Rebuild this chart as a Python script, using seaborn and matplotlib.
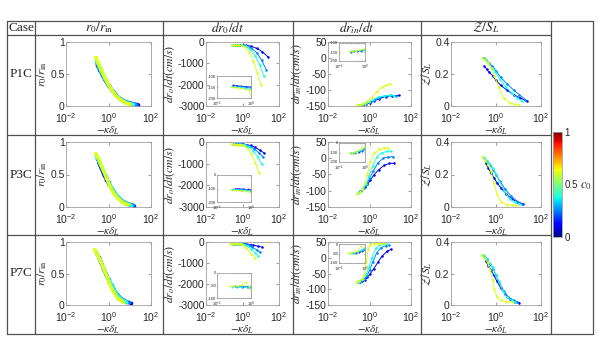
import pandas as pd
import seaborn as sns
import matplotlib
matplotlib.use("Agg")
import matplotlib.pyplot as plt
from matplotlib.lines import Line2D
from matplotlib.cm import ScalarMappable
from matplotlib.colors import Normalize
from matplotlib.ticker import NullFormatter

# curve colours (c0 values) shared by all panels
C0 = [0.1, 0.25, 0.38, 0.62]
CASES = ["P1C", "P3C", "P7C"]
HEADERS = ["Case", r"$r_0/r_{\rm in}$", r"$dr_0/dt$", r"$dr_{in}/dt$", r"$\mathcal{Z}/S_L$"]
YLABELS = [r"$r_0/r_{\rm in}$", r"$dr_o/dt(cm/s)$", r"$dr_{in}/dt(cm/s)$", r"$\mathcal{Z}/S_L$"]

# -kappa*delta_L samples, one list per c0 curve
K_P1C = [[0.30, 0.38, 0.5, 0.7, 1.0, 1.6, 3, 6, 12, 25],
         [0.28, 0.36, 0.48, 0.68, 1.0, 1.6, 3, 6, 11, 20],
         [0.27, 0.35, 0.46, 0.65, 0.95, 1.5, 2.7, 5, 9, 15],
         [0.25, 0.33, 0.44, 0.6, 0.85, 1.3, 2.2, 4, 6.5, 10]]
K_P3C = [[0.35, 0.45, 0.6, 0.8, 1.1, 1.6, 2.8, 5, 9, 16],
         [0.3, 0.4, 0.55, 0.75, 1.0, 1.5, 2.5, 4.5, 8, 14],
         [0.27, 0.36, 0.5, 0.7, 0.95, 1.4, 2.3, 4, 7, 11],
         [0.25, 0.33, 0.45, 0.6, 0.8, 1.1, 1.7, 3, 5, 8]]
K_P7C = [[0.35, 0.45, 0.6, 0.8, 1.1, 1.6, 2.5, 4, 7, 11],
         [0.3, 0.4, 0.55, 0.75, 1.0, 1.4, 2.2, 3.5, 6, 9],
         [0.27, 0.36, 0.5, 0.7, 0.95, 1.3, 2, 3, 5, 7],
         [0.22, 0.3, 0.42, 0.55, 0.7, 0.85, 1.1, 1.6, 2.8, 5]]

# r0/rin
R0_P1C = [[0.64, 0.56, 0.49, 0.40, 0.32, 0.23, 0.13, 0.07, 0.04, 0.02],
          [0.68, 0.59, 0.51, 0.42, 0.33, 0.23, 0.13, 0.07, 0.04, 0.02],
          [0.71, 0.62, 0.53, 0.43, 0.34, 0.24, 0.14, 0.08, 0.04, 0.03],
          [0.76, 0.67, 0.58, 0.48, 0.38, 0.27, 0.16, 0.09, 0.05, 0.03]]
R0_P3C = [[0.68, 0.60, 0.50, 0.42, 0.34, 0.25, 0.15, 0.08, 0.04, 0.02],
          [0.74, 0.66, 0.56, 0.47, 0.38, 0.28, 0.17, 0.09, 0.05, 0.03],
          [0.78, 0.70, 0.60, 0.50, 0.40, 0.30, 0.18, 0.10, 0.05, 0.03],
          [0.82, 0.75, 0.65, 0.55, 0.45, 0.34, 0.22, 0.12, 0.06, 0.04]]
R0_P7C = [[0.76, 0.67, 0.56, 0.47, 0.37, 0.27, 0.17, 0.10, 0.05, 0.03],
          [0.80, 0.71, 0.60, 0.50, 0.41, 0.31, 0.19, 0.11, 0.06, 0.04],
          [0.84, 0.75, 0.63, 0.52, 0.43, 0.34, 0.22, 0.13, 0.07, 0.05],
          [0.88, 0.80, 0.70, 0.60, 0.52, 0.45, 0.35, 0.22, 0.10, 0.05]]

# dr0/dt (cm/s)
DR0_P1C = [[-142, -144, -146, -148, -150, -160, -200, -300, -450, -700],
           [-145, -147, -149, -151, -154, -180, -280, -500, -850, -1300],
           [-148, -150, -152, -155, -158, -200, -350, -650, -1100, -1600],
           [-150, -152, -155, -158, -162, -230, -450, -900, -1450, -2000]]
DR0_P3C = [[-100, -102, -104, -106, -110, -120, -160, -250, -380, -520],
           [-105, -107, -108, -110, -115, -130, -190, -320, -500, -700],
           [-108, -110, -112, -115, -120, -140, -220, -420, -700, -1000],
           [-112, -114, -116, -118, -120, -150, -260, -550, -950, -1430]]
DR0_P7C = [[-85, -86, -87, -88, -90, -100, -120, -150, -200, -240],
           [-86, -87, -88, -89, -92, -110, -160, -250, -380, -480],
           [-88, -88, -89, -90, -95, -120, -200, -330, -500, -670],
           [-85, -84, -82, -75, -60, -80, -150, -300, -550, -760]]

# drin/dt (cm/s)
DRIN_P1C = [[-148, -147, -146, -144, -141, -135, -127, -121, -118, -117],
            [-148, -147, -145, -142, -139, -132, -124, -119, -117, -118],
            [-147, -146, -144, -141, -137, -130, -122, -118, -117, -118],
            [-147, -146, -144, -140, -134, -122, -105, -92, -85, -82]]
DRIN_P3C = [[-100, -96, -90, -80, -67, -52, -35, -22, -16, -15],
            [-104, -100, -92, -80, -62, -40, -15, 0, 4, 5],
            [-107, -103, -93, -78, -55, -25, 5, 17, 21, 22],
            [-110, -105, -95, -75, -48, -12, 15, 27, 31, 32]]
DRIN_P7C = [[-78, -75, -70, -62, -50, -35, -15, 5, 20, 27],
            [-77, -74, -68, -58, -40, -15, 15, 32, 38, 40],
            [-77, -73, -66, -52, -30, 0, 30, 40, 43, 44],
            [-77, -74, -68, -55, -15, 25, 42, 45, 45, 45]]

# Z/S_L
Z_P1C = [[0.25, 0.23, 0.21, 0.19, 0.16, 0.13, 0.10, 0.07, 0.05, 0.03],
         [0.30, 0.29, 0.27, 0.25, 0.22, 0.18, 0.14, 0.10, 0.07, 0.04],
         [0.30, 0.29, 0.27, 0.24, 0.21, 0.17, 0.12, 0.08, 0.05, 0.03],
         [0.30, 0.29, 0.27, 0.24, 0.19, 0.12, 0.05, 0.02, 0.01, 0.008]]
Z_P3C = [[0.27, 0.24, 0.21, 0.18, 0.15, 0.12, 0.08, 0.05, 0.03, 0.02],
         [0.30, 0.28, 0.26, 0.23, 0.20, 0.16, 0.11, 0.07, 0.04, 0.02],
         [0.31, 0.29, 0.27, 0.24, 0.21, 0.16, 0.10, 0.05, 0.03, 0.02],
         [0.31, 0.29, 0.26, 0.22, 0.15, 0.08, 0.03, 0.015, 0.01, 0.01]]
Z_P7C = [[0.28, 0.25, 0.22, 0.19, 0.15, 0.11, 0.07, 0.04, 0.02, 0.015],
         [0.31, 0.29, 0.26, 0.23, 0.19, 0.14, 0.09, 0.05, 0.03, 0.02],
         [0.32, 0.30, 0.27, 0.24, 0.20, 0.15, 0.09, 0.05, 0.03, 0.02],
         [0.32, 0.30, 0.27, 0.22, 0.16, 0.10, 0.05, 0.03, 0.02, 0.02]]

K_ALL = [K_P1C, K_P3C, K_P7C]
VALUES = [[R0_P1C, DR0_P1C, DRIN_P1C, Z_P1C],
          [R0_P3C, DR0_P3C, DRIN_P3C, Z_P3C],
          [R0_P7C, DR0_P7C, DRIN_P7C, Z_P7C]]

YLIMS = [(0, 1), (-3000, 0), (-150, 50), (0, 0.4)]
YTICKS = [[0, 0.5, 1], [-3000, -2000, -1000, 0], [-150, -100, -50, 0, 50], [0, 0.2, 0.4]]
YTICKLABELS = [["0", "0.5", "1"], ["-3000", "-2000", "-1000", "0"],
               ["-150", "-100", "-50", "0", "50"], ["0", "0.2", "0.4"]]
INSET_YLIMS = [(-200, -100), (-200, 0), (-160, 0)]
INSET_YTICKS = [[-200, -150, -100], [-200, -100, 0], [-160, -80, 0]]

sns.set_style("ticks")
plt.rcParams["font.family"] = ["Liberation Sans", "DejaVu Sans"]
plt.rcParams["mathtext.fontset"] = "stix"
plt.rcParams["axes.unicode_minus"] = False

JET = matplotlib.colormaps["jet"]

W, H = 598, 345
fig = plt.figure(figsize=(W / 100, H / 100), dpi=100)


def rect(x0, y0, x1, y1):
    return [x0 / W, 1 - y1 / H, (x1 - x0) / W, (y1 - y0) / H]


def hline(y, x0, x1):
    fig.add_artist(Line2D([x0 / W, x1 / W], [1 - y / H, 1 - y / H], transform=fig.transFigure,
                          color="#505050", lw=0.9))


def vline(x, y0, y1):
    fig.add_artist(Line2D([x / W, x / W], [1 - y0 / H, 1 - y1 / H], transform=fig.transFigure,
                          color="#505050", lw=0.9))


def panel_df(k, v):
    rows = []
    for c, xs, ys in zip(C0, k, v):
        for x, y in zip(xs, ys):
            rows.append((c, x, y))
    return pd.DataFrame(rows, columns=["c0", "k", "v"])


def draw(ax, df, lw, ms):
    sns.lineplot(data=df, x="k", y="v", hue="c0", palette=JET, hue_norm=(0, 1),
                 estimator=None, sort=False, marker="o", markersize=ms,
                 markeredgewidth=0, linewidth=lw, legend=False, ax=ax)


def style(ax, size):
    for s in ax.spines.values():
        s.set_color("#a0a0a0")
        s.set_linewidth(0.6)
    ax.tick_params(which="both", direction="in", top=True, right=True, color="#a0a0a0",
                   labelsize=size, pad=1)
    ax.tick_params(which="major", length=2)
    ax.tick_params(which="minor", length=1)
    ax.xaxis.set_minor_formatter(NullFormatter())


# table grid
hline(21, 7, 593)
hline(35, 7, 551)
hline(135, 7, 551)
hline(235, 7, 551)
hline(334, 7, 593)
for x in [7, 35, 163, 293, 421, 551, 593]:
    vline(x, 21, 334)

header_x = [21, 99, 228, 357, 486]
for hx, txt in zip(header_x, HEADERS):
    fig.text(hx / W, 1 - 28 / H, txt, ha="center", va="center", fontsize=9.5,
             family="Liberation Serif")

col_x = [(66, 151), (206, 279), (328, 411), (451, 541)]
row_y = [(42, 106), (142, 207), (242, 305)]
inset_x = [(217, 251), (339, 365)]
inset_y = [[(76, 98), (175, 202), (273, 298)], [(43, 61), (143, 162), (244, 263)]]

for r in range(3):
    fig.text(21 / W, 1 - (row_y[r][0] + row_y[r][1]) / 2 / H, CASES[r], ha="center",
             va="center", fontsize=9.5, family="Liberation Serif")
    for c in range(4):
        df = panel_df(K_ALL[r], VALUES[r][c])
        ax = fig.add_axes(rect(col_x[c][0], row_y[r][0], col_x[c][1], row_y[r][1]))
        ax.set_xscale("log")
        if c == 0:
            draw(ax, df, lw=2.4, ms=2.6)
        else:
            draw(ax, df, lw=0.7, ms=1.8)
        ax.set_xlim(1e-2, 1e2)
        ax.set_xticks([1e-2, 1, 1e2])
        ax.set_ylim(*YLIMS[c])
        ax.set_yticks(YTICKS[c])
        ax.set_yticklabels(YTICKLABELS[c])
        ax.set_xlabel(r"$-\kappa\delta_L$", fontsize=8, labelpad=0)
        ax.set_ylabel(YLABELS[c], fontsize=8.5, labelpad=1)
        style(ax, 7.5)
        ax.tick_params(axis="x", pad=3.5)

        if c in (1, 2):
            i = c - 1
            ix = inset_x[i]
            iy = inset_y[i][r]
            axi = fig.add_axes(rect(ix[0], iy[0], ix[1], iy[1]))
            axi.set_xscale("log")
            draw(axi, df, lw=0.5, ms=1.3)
            axi.set_xlim(0.1, 1)
            axi.set_xticks([0.1, 1])
            axi.set_ylim(*INSET_YLIMS[r])
            axi.set_yticks(INSET_YTICKS[r])
            axi.set_yticklabels([str(t) for t in INSET_YTICKS[r]])
            axi.set_xlabel("")
            axi.set_ylabel("")
            style(axi, 3)
            axi.tick_params(which="major", length=1, pad=0.5)
            axi.tick_params(axis="x", pad=1.5)
            axi.tick_params(which="minor", length=0.5)

# colour bar
cax = fig.add_axes(rect(553, 132, 562, 237))
cb = fig.colorbar(ScalarMappable(norm=Normalize(0, 1), cmap=JET), cax=cax)
cb.set_ticks([0, 0.5, 1])
cb.set_ticklabels(["0", "0.5", "1"])
cb.outline.set_edgecolor("#a0a0a0")
cb.outline.set_linewidth(0.6)
cax.tick_params(labelsize=7, length=0, pad=2)
fig.text(586 / W, 1 - 186 / H, r"$c_0$", ha="center", va="center", fontsize=9)

fig.savefig("out.png", dpi=100)
